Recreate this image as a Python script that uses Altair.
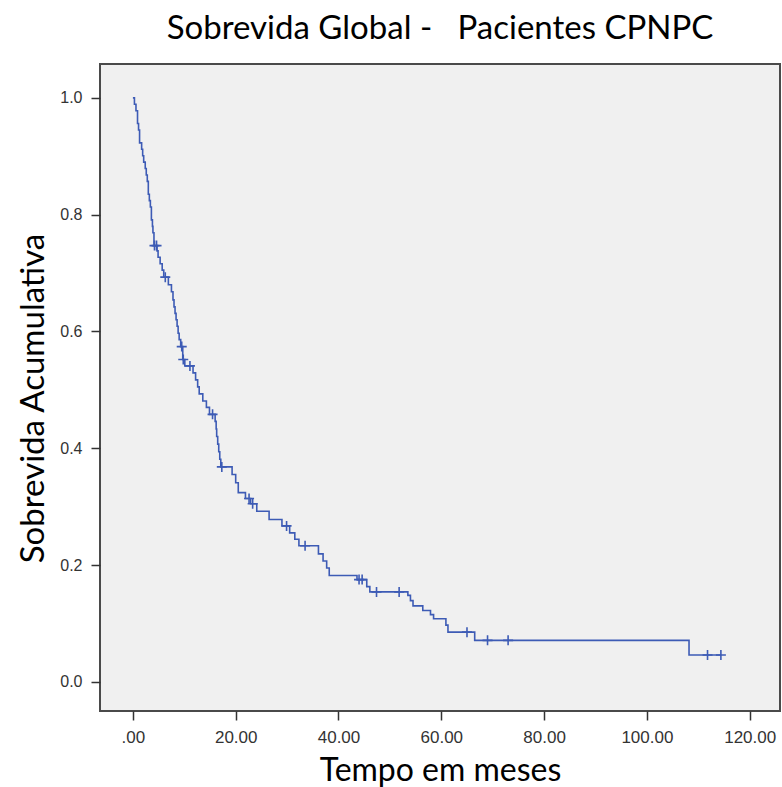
import altair as alt
import pandas as pd

# Kaplan-Meier estimate: time of each drop (months) and survival after it
step_t = [0, 0.3, 0.6, 0.9, 1.1, 1.3, 1.7, 1.9, 2.1, 2.4, 2.6, 2.8, 3.0, 3.2,
          3.4, 3.6, 3.8, 3.9, 4.1, 4.7, 4.9, 5.3, 5.7, 6.0, 6.9, 7.5, 7.8, 8.0,
          8.2, 8.4, 8.6, 8.8, 9.0, 9.3, 9.7, 10.1, 11.7, 12.2, 12.6, 12.9, 13.6,
          14.3, 14.9, 16.0, 16.2, 16.3, 16.5, 16.7, 16.9, 17.1, 19.3, 20.0, 20.5,
          21.9, 22.9, 24.1, 26.5, 29.0, 30.5, 31.5, 32.3, 36.1, 37.0, 37.7, 38.2,
          43.6, 45.5, 46.1, 53.5, 54.0, 54.5, 56.4, 57.9, 58.5, 60.9, 61.3, 66.5,
          108.2]
step_s = [1.0, 0.989, 0.978, 0.956, 0.945, 0.923, 0.912, 0.901, 0.890, 0.879,
          0.868, 0.857, 0.835, 0.824, 0.813, 0.791, 0.780, 0.769, 0.747, 0.738,
          0.727, 0.716, 0.705, 0.693, 0.680, 0.668, 0.654, 0.642, 0.631, 0.620,
          0.609, 0.597, 0.586, 0.574, 0.552, 0.541, 0.529, 0.517, 0.505, 0.493,
          0.481, 0.470, 0.458, 0.446, 0.433, 0.420, 0.407, 0.394, 0.381, 0.368,
          0.355, 0.341, 0.324, 0.314, 0.305, 0.292, 0.278, 0.267, 0.255, 0.244,
          0.233, 0.219, 0.207, 0.195, 0.182, 0.175, 0.163, 0.154, 0.148, 0.139,
          0.130, 0.122, 0.115, 0.108, 0.097, 0.085, 0.071, 0.046]

# Censored observations
cens_t = [4.2, 4.6, 6.3, 9.5, 9.8, 11.1, 15.5, 17.3, 22.6, 23.3, 29.9, 33.5,
          44.0, 44.6, 47.4, 51.8, 65.0, 69.0, 73.0, 111.8, 114.4]
cens_s = [0.747, 0.747, 0.693, 0.574, 0.552, 0.541, 0.458, 0.368, 0.314, 0.305,
          0.267, 0.233, 0.175, 0.175, 0.154, 0.154, 0.085, 0.071, 0.071, 0.046,
          0.046]

x_ticks = [0, 20, 40, 60, 80, 100, 120]
y_ticks = [0.0, 0.2, 0.4, 0.6, 0.8, 1.0]

# the curve runs on to the last censored time
curve = pd.DataFrame({"t": step_t + [cens_t[-1]], "s": step_s + [step_s[-1]]})
cens = pd.DataFrame({"t": cens_t, "s": cens_s})

BLUE = "#3d5bb5"
LABEL_FONT = "Liberation Sans"
TITLE_FONT = "Lato"

x_enc = alt.X(
    "t:Q",
    scale=alt.Scale(domain=[-6.4, 125.9], nice=False, zero=False),
    axis=alt.Axis(
        values=x_ticks,
        labelExpr="datum.value == 0 ? '.00' : format(datum.value, '.2f')",
        title="Tempo em meses",
        titleFont=TITLE_FONT, titleFontSize=32, titleFontWeight="normal",
        titleColor="#000", titleY=69, titleBaseline="alphabetic",
        labelFont=LABEL_FONT, labelFontSize=17, labelColor="#333",
        labelPadding=9, tickSize=9, tickWidth=1.5, tickColor="#333",
        domain=False, grid=False,
    ),
)
y_enc = alt.Y(
    "s:Q",
    scale=alt.Scale(domain=[-0.05, 1.058], nice=False, zero=False),
    axis=alt.Axis(
        values=y_ticks, format=".1f",
        title="Sobrevida Acumulativa",
        titleFont=TITLE_FONT, titleFontSize=33, titleFontWeight="normal",
        titleColor="#000", titleX=-50, titleY=334,
        labelFont=LABEL_FONT, labelFontSize=16, labelColor="#333",
        labelPadding=9, tickSize=9, tickWidth=1.5, tickColor="#333",
        domain=False, grid=False,
    ),
)

line = alt.Chart(curve).mark_line(
    interpolate="step-after", color=BLUE, strokeWidth=1.6
).encode(x=x_enc, y=y_enc)

marks = alt.Chart(cens).mark_point(
    shape="M-1,0L1,0M0,-1L0,1", size=100, filled=False,
    color=BLUE, strokeWidth=1.6, opacity=1
).encode(x="t:Q", y="s:Q")

chart = (
    alt.layer(line, marks)
    .properties(
        width=680, height=647,
        autosize="none",
        padding={"left": 100, "top": 64, "right": 2, "bottom": 76},
        background="white",
        title=alt.TitleParams(
            "Sobrevida Global -\u00a0\u00a0 Pacientes CPNPC",
            font=TITLE_FONT, fontSize=33, fontWeight="normal", color="#000",
            anchor="middle", offset=18,
        ),
    )
    .configure_view(fill="#f0f0f0", stroke="#4a4a4a", strokeWidth=2)
)

chart.save("out.html", embed_options={"renderer": "svg", "actions": False})
